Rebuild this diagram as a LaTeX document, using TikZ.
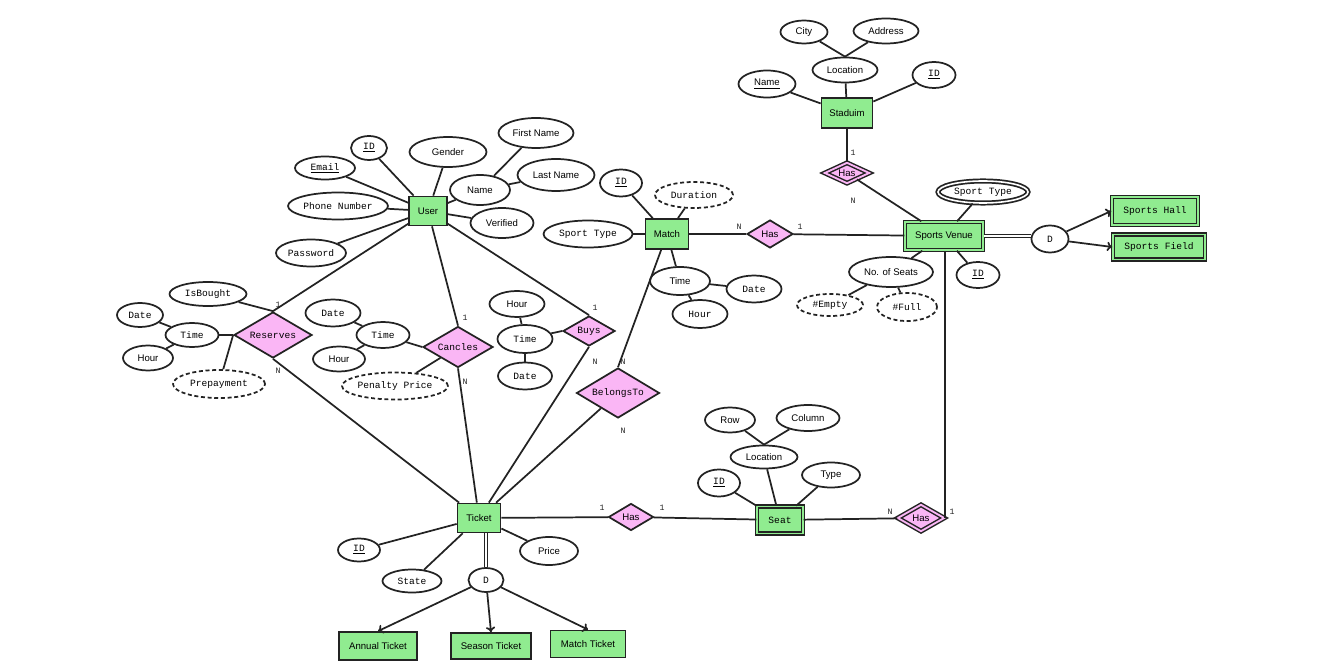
\documentclass[tikz,border=0pt]{standalone}
\usepackage{fontspec}
\setmainfont{Liberation Sans}
\newfontfamily\monof{Liberation Mono}
\usetikzlibrary{shapes.geometric,arrows.meta}
\definecolor{entgreen}{RGB}{144,236,144}
\definecolor{relpink}{RGB}{250,182,245}
\definecolor{ink}{RGB}{35,35,35}
\newcommand\sfsz{\fontsize{7.2}{8.6}\selectfont}
\newcommand\mfsz{\fontsize{7.2}{8.6}\selectfont\monof}
\newcommand\lfsz{\fontsize{6.2}{7}\selectfont\monof}
\tikzset{
  att/.style 2 args={ellipse, draw=ink, fill=white, line width=1.3pt, minimum width=#1*0.75pt, minimum height=#2*0.75pt, inner sep=0pt, font=\sfsz},
  mono/.style={font=\mfsz},
  der/.style={dash pattern=on 3pt off 2pt},
  mval/.style={double=white, double distance=1.2pt},
  ent/.style 2 args={rectangle, draw=ink, fill=entgreen, line width=1.3pt, minimum width=#1*0.75pt, minimum height=#2*0.75pt, inner sep=0pt, font=\sfsz},
  went/.style={double=entgreen, double distance=1.4pt, line width=1.1pt},
  rel/.style 2 args={diamond, draw=ink, fill=relpink, line width=1.3pt, shape aspect=1.7, minimum width=#1*0.75pt, minimum height=#2*0.75pt, inner sep=0pt, font=\sfsz},
  wrel/.style={double=relpink, double distance=1.4pt, line width=1.1pt},
  card/.style={font=\lfsz, text=ink, inner sep=0pt},
  ln/.style={draw=ink, line width=1.3pt},
  isa/.style={draw=ink, line width=1.3pt, -{To[length=4pt,width=7pt]}},
}
\begin{document}
\begin{tikzpicture}[x=0.75pt,y=-0.75pt]
\useasboundingbox (0,0) rectangle (1321,666);

% ---------- Stadium ----------
\node[att={47}{23}] (city) at (804,32) {City};
\node[att={65}{25}] (address) at (886,31) {Address};
\node[att={65}{25}] (sloc) at (845,70) {Location};
\node[att={57}{27}] (sname) at (767,84) {\underline{Name}};
\node[att={43}{26},mono] (sid) at (934,75) {\underline{ID}};
\node[ent={51}{30}] (stad) at (847,113) {Staduim};
\node[rel={45}{21},wrel] (shas) at (847,173) {Has};
\node[card] (cst1) at (853,153) {1};
\node[card] (cst2) at (853,201) {N};

% ---------- Sports Venue ----------
\node[ent={78}{28},went] (sv) at (944,236) {Sports Venue};
\node[att={90}{22},mono,mval] (svtype) at (983,192) {Sport Type};
\node[att={37}{27},mono] (svd) at (1050,239) {D};
\node[ent={86}{28},went,mono] (shall) at (1155,211) {Sports Hall};
\node[ent={92}{25},went,mono] (sfield) at (1159,247) {Sports Field};
\node[att={84}{30}] (seats) at (891,272) {No. of Seats};
\node[att={43}{26},mono] (svid) at (978,275) {\underline{ID}};
\node[att={66}{22},mono,der] (empty) at (830,305) {\#Empty};
\node[att={60}{28},mono,der] (full) at (907,307) {\#Full};

% ---------- Match ----------
\node[att={42}{27},mono] (mid) at (621,183) {\underline{ID}};
\node[att={78}{26},mono,der] (dur) at (694,195) {Duration};
\node[att={89}{27},mono] (msport) at (588,234) {Sport Type};
\node[ent={43}{30}] (match) at (667,234) {Match};
\node[rel={46}{28}] (mhas) at (770,234) {Has};
\node[att={60}{28}] (mtime) at (680,281) {Time};
\node[att={55}{27},mono] (mdate) at (754,289) {Date};
\node[att={55}{28},mono] (mhour) at (700,314) {Hour};
\node[card] (cm1) at (739,227) {N};
\node[card] (cm2) at (800,227) {1};

% ---------- User ----------
\node[att={36}{24},mono] (uid) at (369,148) {\underline{ID}};
\node[att={77}{30}] (gender) at (448,152) {Gender};
\node[att={75}{30}] (fname) at (536,133) {First Name};
\node[att={60}{23},mono] (email) at (325,168) {\underline{Email}};
\node[att={77}{32}] (lname) at (556,175) {Last Name};
\node[att={60}{30}] (uname) at (480,190) {Name};
\node[att={100}{27},mono] (phone) at (338,206) {Phone Number};
\node[ent={38}{29}] (user) at (428,211) {User};
\node[att={63}{30}] (verified) at (502,223) {Verified};
\node[att={70}{27},mono] (pass) at (311,253) {Password};

% ---------- Reserves ----------
\node[att={77}{24},mono] (isb) at (208,294) {IsBought};
\node[att={46}{24},mono] (rdate) at (140,315) {Date};
\node[att={53}{24},mono] (rtime) at (192,335) {Time};
\node[att={50}{25}] (rhour) at (148,358) {Hour};
\node[rel={78}{46},mono] (res) at (273,335) {Reserves};
\node[att={92}{28},mono,der] (prep) at (219,384) {Prepayment};
\node[card] (cr1) at (278,305) {1};
\node[card] (cr2) at (278,371) {N};

% ---------- Cancles ----------
\node[att={55}{27},mono] (cdate) at (333,313) {Date};
\node[att={53}{26},mono] (ctime) at (383,335) {Time};
\node[att={52}{25}] (chour) at (339,359) {Hour};
\node[rel={70}{41},mono] (canc) at (458,347) {Cancles};
\node[att={106}{27},mono,der] (pen) at (395,386) {Penalty Price};
\node[card] (cc1) at (465,318) {1};
\node[card] (cc2) at (465,382) {N};

% ---------- Buys ----------
\node[att={55}{26}] (bhour) at (517,304) {Hour};
\node[att={55}{28},mono] (btime) at (525,339) {Time};
\node[att={54}{27},mono] (bdate) at (525,376) {Date};
\node[rel={52}{30},mono] (buys) at (589,331) {Buys};
\node[card] (cb1) at (595,308) {1};
\node[card] (cb2) at (595,362) {N};

% ---------- BelongsTo ----------
\node[rel={83}{50},mono] (bel) at (618,393) {BelongsTo};
\node[card] (cbe1) at (623,362) {N};
\node[card] (cbe2) at (623,431) {N};

% ---------- Ticket ----------
\node[ent={43}{29}] (ticket) at (479,518) {Ticket};
\node[rel={45}{27}] (thas) at (631,517) {Has};
\node[card] (ct1) at (602,508) {1};
\node[card] (ct2) at (662,508) {1};
\node[att={42}{23},mono] (tid) at (359,550) {\underline{ID}};
\node[att={58}{28}] (price) at (549,551) {Price};
\node[att={59}{23},mono] (state) at (412,581) {State};
\node[att={35}{24},mono] (td) at (486,580) {D};
\node[ent={78}{28}] (annual) at (378,646) {Annual Ticket};
\node[ent={80}{26}] (season) at (491,646) {Season Ticket};
\node[ent={75}{27}] (matcht) at (588,644) {Match Ticket};

% ---------- Seat ----------
\node[att={50}{25}] (row) at (730,420) {Row};
\node[att={63}{26}] (col) at (808,418) {Column};
\node[att={67}{23}] (seatloc) at (764,457) {Location};
\node[att={42}{27},mono] (seatid) at (719,483) {\underline{ID}};
\node[att={58}{25}] (stype) at (831,475) {Type};
\node[ent={46}{27},went,mono] (seat) at (780,520) {Seat};
\node[rel={47}{27},wrel] (sehas) at (921,518) {Has};
\node[card] (cs1) at (890,512) {N};
\node[card] (cs2) at (952,512) {1};

% ---------- connectors ----------
\draw[ln] (city) -- (sloc.north);
\draw[ln] (address) -- (sloc.north);
\draw[ln] (sloc) -- (stad);
\draw[ln] (sname) -- (stad);
\draw[ln] (sid) -- (stad);
\draw[ln] (stad) -- (shas);
\draw[ln] (shas) -- (sv);

\draw[ln] (svtype) -- (sv);
\draw[ln,line width=1.1pt,double=white,double distance=1.5pt] (sv.east) -- (svd.west |- sv.east);
\draw[isa] (svd) -- (shall.west);
\draw[isa] (svd) -- (sfield.west);
\draw[ln] (seats) -- (sv);
\draw[ln] (svid) -- (sv);
\draw[ln] (empty) -- (seats);
\draw[ln] (full) -- (seats);

\draw[ln] (mid) -- (match);
\draw[ln] (dur) -- (match);
\draw[ln] (msport) -- (match);
\draw[ln] (match) -- (mhas);
\draw[ln] (mhas) -- (sv);
\draw[ln] (match) -- (mtime);
\draw[ln] (mtime) -- (mdate);
\draw[ln] (mtime) -- (mhour);
\draw[ln] (match) -- (bel.north);

\draw[ln] (uid) -- (user);
\draw[ln] (gender) -- (user);
\draw[ln] (email) -- (user);
\draw[ln] (phone) -- (user);
\draw[ln] (pass) -- (user);
\draw[ln] (uname) -- (user);
\draw[ln] (verified) -- (user);
\draw[ln] (fname) -- (uname);
\draw[ln] (lname) -- (uname);
\draw[ln] (user) -- (res.north);
\draw[ln] (user) -- (canc.north);
\draw[ln] (user) -- (buys.north);

\draw[ln] (isb) -- (res.north);
\draw[ln] (rtime) -- (res.west);
\draw[ln] (rdate) -- (rtime);
\draw[ln] (rhour) -- (rtime);
\draw[ln] (prep) -- (res.west);
\draw[ln] (res.south) -- (ticket);

\draw[ln] (cdate) -- (ctime);
\draw[ln] (chour) -- (ctime);
\draw[ln] (ctime) -- (canc.west);
\draw[ln] (pen) -- (canc);
\draw[ln] (canc.south) -- (ticket);

\draw[ln] (bhour) -- (btime);
\draw[ln] (bdate) -- (btime);
\draw[ln] (btime) -- (buys.west);
\draw[ln] (buys.south) -- (ticket);
\draw[ln] (bel) -- (ticket);

\draw[ln] (ticket) -- (thas);
\draw[ln] (thas) -- (seat);
\draw[ln] (tid) -- (ticket);
\draw[ln] (state) -- (ticket);
\draw[ln] (price) -- (ticket);
\draw[ln,line width=1.1pt,double=white,double distance=1.5pt] (td.north |- ticket.south) -- (td.north);
\draw[isa] (td) -- (annual.north);
\draw[isa] (td) -- (season.north);
\draw[isa] (td) -- (matcht.north);

\draw[ln] (row) -- (seatloc.north);
\draw[ln] (col) -- (seatloc.north);
\draw[ln] (seatloc) -- (seat);
\draw[ln] (seatid) -- (seat);
\draw[ln] (stype) -- (seat);
\draw[ln] (seat) -- (sehas);
\draw[ln] (sehas.east) -- (sehas.east |- sv.south);
\end{tikzpicture}
\end{document}
